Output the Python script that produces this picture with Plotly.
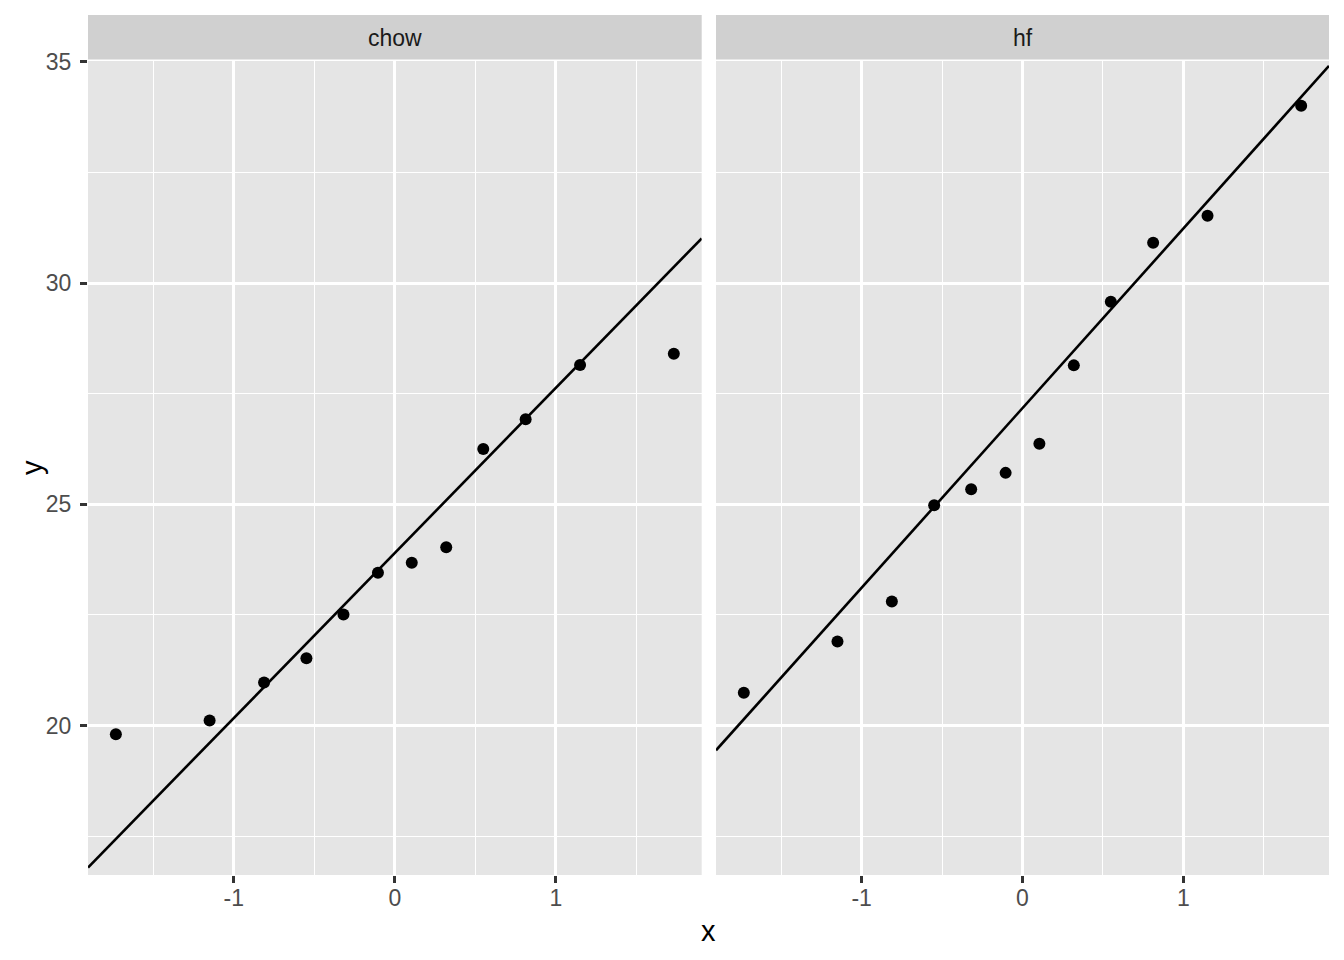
import numpy as np
import plotly.graph_objects as go

# theoretical normal quantiles (12 obs per group)
theoretical = [-1.732, -1.150, -0.812, -0.549, -0.319, -0.105,
               0.105, 0.319, 0.549, 0.812, 1.150, 1.732]

# sorted sample values per facet
chow = [19.80, 20.11, 20.97, 21.52, 22.51, 23.45,
        23.68, 24.03, 26.25, 26.92, 28.15, 28.40]
hf = [20.74, 21.90, 22.80, 24.98, 25.34, 25.71,
      26.37, 28.14, 29.58, 30.91, 31.52, 34.01]

groups = ["chow", "hf"]
x_ticks = [-1, 0, 1]
y_ticks = [20, 25, 30, 35]

X_RANGE = [-1.905, 1.905]
Y_RANGE = [16.62, 35.02]

# page body has an 8px margin, so the figure is a bit smaller and shifted
OFF = 8
W, H = 1344 - 2 * OFF, 960 - 2 * OFF

FONT = "Liberation Sans"


def qq_line(sample):
    """line through the 1st and 3rd quartiles, like stat_qq_line"""
    q25, q75 = np.quantile(sample, [0.25, 0.75])
    z = 0.6744898
    slope = (q75 - q25) / (2 * z)
    intercept = q25 + z * slope
    xs = np.array(X_RANGE)
    return xs, intercept + slope * xs


def px_x(p):
    return (p - OFF) / W


def px_y(p):
    return 1 - (p - OFF) / H


fig = go.Figure()

panels = [(88, 701.7), (716, 1329)]
samples = [chow, hf]

for i, (name, sample) in enumerate(zip(groups, samples)):
    ax = "" if i == 0 else str(i + 1)
    lx, ly = qq_line(sample)
    fig.add_trace(go.Scatter(
        x=theoretical, y=sample, mode="markers",
        marker=dict(color="black", size=12),
        xaxis="x" + ax, yaxis="y" + ax, showlegend=False))
    fig.add_trace(go.Scatter(
        x=lx, y=ly, mode="lines",
        line=dict(color="black", width=2.6),
        xaxis="x" + ax, yaxis="y" + ax, showlegend=False))

    # facet strip
    x0, x1 = panels[i]
    fig.add_shape(type="rect", xref="paper", yref="paper",
                  x0=px_x(x0), x1=px_x(x1), y0=px_y(59.5), y1=px_y(15),
                  fillcolor="#D0D0D0", line=dict(width=0), layer="below")
    fig.add_annotation(text=name, xref="paper", yref="paper",
                       x=px_x((x0 + x1) / 2), y=px_y(38), showarrow=False,
                       font=dict(family=FONT, size=23, color="#1A1A1A"),
                       xanchor="center", yanchor="middle")

axis_common = dict(
    showline=False, zeroline=False, automargin=False,
    gridcolor="white", gridwidth=2.6,
    ticklen=7, tickwidth=2.6, tickcolor="#333333",
    tickfont=dict(family=FONT, size=23, color="#4D4D4D"),
    minor=dict(showgrid=True, gridcolor="white", gridwidth=1.3, ticks=""),
)

y_dom = [px_y(875), px_y(61)]

fig.update_layout(
    width=W, height=H,
    margin=dict(l=0, r=0, t=0, b=0),
    paper_bgcolor="white", plot_bgcolor="#E5E5E5",
    font=dict(family=FONT),
    xaxis=dict(domain=[px_x(88), px_x(701.7)], range=X_RANGE,
               tickvals=x_ticks, ticktext=[str(v) for v in x_ticks],
               anchor="y", ticks="outside", ticklabelstandoff=-5,
               **axis_common),
    xaxis2=dict(domain=[px_x(716), px_x(1329)], range=X_RANGE,
                tickvals=x_ticks, ticktext=[str(v) for v in x_ticks],
                anchor="y2", ticks="outside", ticklabelstandoff=-5,
                **axis_common),
    yaxis=dict(domain=y_dom, range=Y_RANGE, tickvals=y_ticks,
               ticktext=[str(v) for v in y_ticks], anchor="x",
               ticks="outside", ticklabelstandoff=4, **axis_common),
    yaxis2=dict(domain=y_dom, range=Y_RANGE, tickvals=y_ticks,
                showticklabels=False, anchor="x2", ticks="",
                **axis_common),
)

fig.update_xaxes(minor_tickvals=[-1.5, -0.5, 0.5, 1.5])
fig.update_yaxes(minor_tickvals=[17.5, 22.5, 27.5, 32.5])

# axis titles
fig.add_annotation(text="x", xref="paper", yref="paper",
                   x=px_x(708.5), y=px_y(931), showarrow=False,
                   font=dict(family=FONT, size=29, color="black"),
                   xanchor="center", yanchor="middle")
fig.add_annotation(text="y", xref="paper", yref="paper",
                   x=px_x(32), y=px_y(468), showarrow=False, textangle=-90,
                   font=dict(family=FONT, size=29, color="black"),
                   xanchor="center", yanchor="middle")

fig.write_html("out.html")
